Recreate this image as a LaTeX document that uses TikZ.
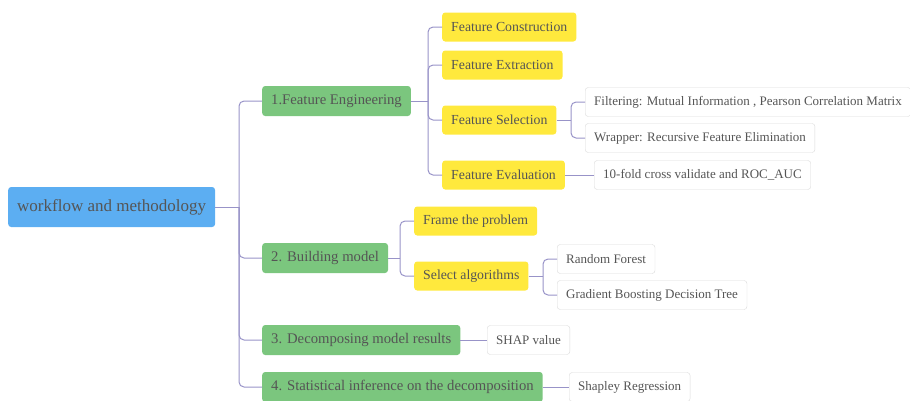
\documentclass[tikz,border=0pt]{standalone}
\usepackage{fontspec}
\setmainfont{Liberation Serif}
\usetikzlibrary{positioning}
\definecolor{rootblue}{HTML}{5CAEF2}
\definecolor{stagegreen}{HTML}{7BC67E}
\definecolor{taskyellow}{HTML}{FFE93D}
\definecolor{linkline}{HTML}{9893C8}
\definecolor{txtgray}{HTML}{555555}
\definecolor{boxedge}{HTML}{DADADA}

\begin{document}
\begin{tikzpicture}[x=1pt,y=-1pt,
 box/.style={anchor=west,rounded corners=3pt,minimum height=29pt,inner xsep=9pt,text=txtgray,font=\fontsize{13}{15}\selectfont},
 stage/.style={box,fill=stagegreen,minimum height=30pt,font=\fontsize{14.7}{17}\selectfont},
 task/.style={box,fill=taskyellow,font=\fontsize{13.8}{16}\selectfont},
 leaf/.style={box,draw=boxedge,fill=white},
 link/.style={draw=linkline,line width=1pt,rounded corners=5pt}]
\useasboundingbox (0,0) rectangle (910,400);
% root and the four stages
\node[box,fill=rootblue,minimum height=40pt,font=\fontsize{17}{20}\selectfont] (root) at (8,207) {workflow and methodology};
\node[stage] (fe) at (262,101) {1.Feature Engineering};
\node[stage] (bm) at (262,258) {2. Building model};
\node[stage] (dm) at (262,340) {3. Decomposing model results};
\node[stage] (si) at (262,387) {4. Statistical inference on the decomposition};
% feature engineering
\node[task] (fcon) at (442,27) {Feature Construction};
\node[task] (fext) at (442,65) {Feature Extraction};
\node[task] (fsel) at (442,120) {Feature Selection};
\node[task] (feval) at (442,175) {Feature Evaluation};
\node[leaf] (filt) at (585,102) {Filtering: Mutual Information , Pearson Correlation Matrix};
\node[leaf] (wrap) at (585,138) {Wrapper: Recursive Feature Elimination};
\node[leaf] (cv) at (594,175) {10-fold cross validate and ROC\_AUC};
% building model
\node[task] (frame) at (414,221) {Frame the problem};
\node[task] (algo) at (414,276) {Select algorithms};
\node[leaf] (rf) at (557,259) {Random Forest};
\node[leaf] (gbdt) at (557,295) {Gradient Boosting Decision Tree};
% decomposition and inference
\node[leaf] (shap) at (487,340) {SHAP value};
\node[leaf] (sreg) at (569,387) {Shapley Regression};
% forks
\coordinate (rootfork) at (239,207);
\coordinate (fefork) at (428,101);
\coordinate (selfork) at (571,120);
\coordinate (bmfork) at (400,258);
\coordinate (algofork) at (543,276);
\draw[link] (root.east) -- (rootfork);
\foreach \n in {fe,bm,dm,si} \draw[link] (rootfork) |- (\n.west);
\draw[link] (fe.east) -- (fefork);
\foreach \n in {fcon,fext,fsel,feval} \draw[link] (fefork) |- (\n.west);
\draw[link] (fsel.east) -- (selfork);
\foreach \n in {filt,wrap} \draw[link] (selfork) |- (\n.west);
\draw[link] (feval.east) -- (cv.west);
\draw[link] (bm.east) -- (bmfork);
\foreach \n in {frame,algo} \draw[link] (bmfork) |- (\n.west);
\draw[link] (algo.east) -- (algofork);
\foreach \n in {rf,gbdt} \draw[link] (algofork) |- (\n.west);
\draw[link] (dm.east) -- (shap.west);
\draw[link] (si.east) -- (sreg.west);
\end{tikzpicture}
\end{document}
